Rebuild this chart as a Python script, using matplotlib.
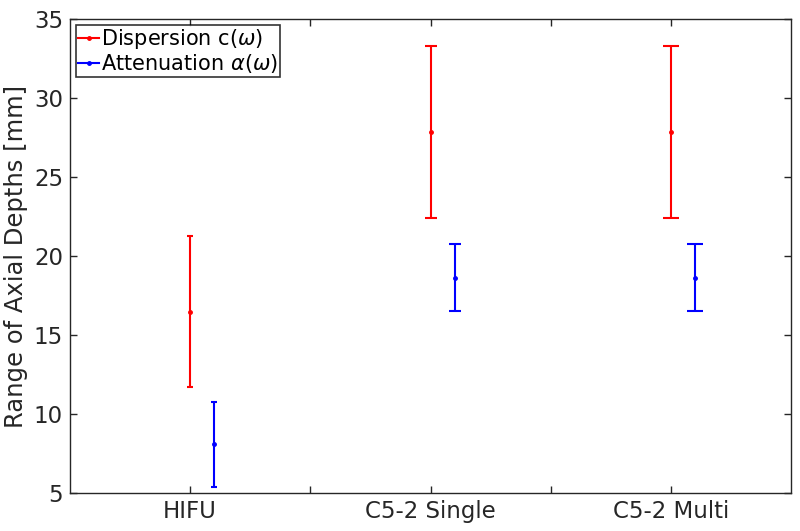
import matplotlib
matplotlib.use("Agg")
import matplotlib.pyplot as plt
from matplotlib.lines import Line2D

categories = ["HIFU", "C5-2 Single", "C5-2 Multi"]
disp_lower = [11.73, 22.42, 22.42]
disp_center = [16.47, 27.85, 27.85]
disp_upper = [21.27, 33.31, 33.31]
att_lower = [5.40, 16.52, 16.52]
att_center = [8.08, 18.63, 18.63]
att_upper = [10.78, 20.74, 20.74]

cap_sizes = [2.2, 4.0, 5.7]
offset = 0.1
axcol = "#262626"

fig = plt.figure(figsize=(8, 5.31), dpi=100)
ax = fig.add_axes([70/800, 1-493/531, 721/800, 474/531])

for i in range(len(categories)):
    x = i + 1
    ax.errorbar([x], [disp_center[i]],
                yerr=[[disp_center[i]-disp_lower[i]], [disp_upper[i]-disp_center[i]]],
                color="red", lw=1.5, capsize=cap_sizes[i], capthick=1.5,
                marker=".", ms=5)
    ax.errorbar([x + offset], [att_center[i]],
                yerr=[[att_center[i]-att_lower[i]], [att_upper[i]-att_center[i]]],
                color="blue", lw=1.5, capsize=cap_sizes[i], capthick=1.5,
                marker=".", ms=5)

ax.set_xlim(0.5, 3.5)
ax.set_ylim(5, 35)
ax.set_xticks([1, 1.5, 2, 2.5, 3])
ax.set_xticklabels([categories[0], "", categories[1], "", categories[2]])
ax.set_yticks([5, 10, 15, 20, 25, 30, 35])
ax.tick_params(direction="in", top=True, right=True, length=5, width=1,
               labelsize=16.5, colors=axcol, pad=5)
for s in ax.spines.values():
    s.set_color(axcol)
    s.set_linewidth(1)
ax.set_ylabel("Range of Axial Depths [mm]", fontsize=17.5, color=axcol, labelpad=4)

handles = [Line2D([], [], color="red", lw=1.5, marker=".", ms=5),
           Line2D([], [], color="blue", lw=1.5, marker=".", ms=5)]
leg = ax.legend(handles, [r"Dispersion c($\omega$)", r"Attenuation $\alpha(\omega)$"],
                loc="upper left", fontsize=15, frameon=True, fancybox=False,
                edgecolor="black", handlelength=1.0, handletextpad=0.1,
                borderpad=0.1, labelspacing=0.05, borderaxespad=0.3)
leg.get_frame().set_linewidth(1.2)

fig.savefig("out.png", dpi=100)
